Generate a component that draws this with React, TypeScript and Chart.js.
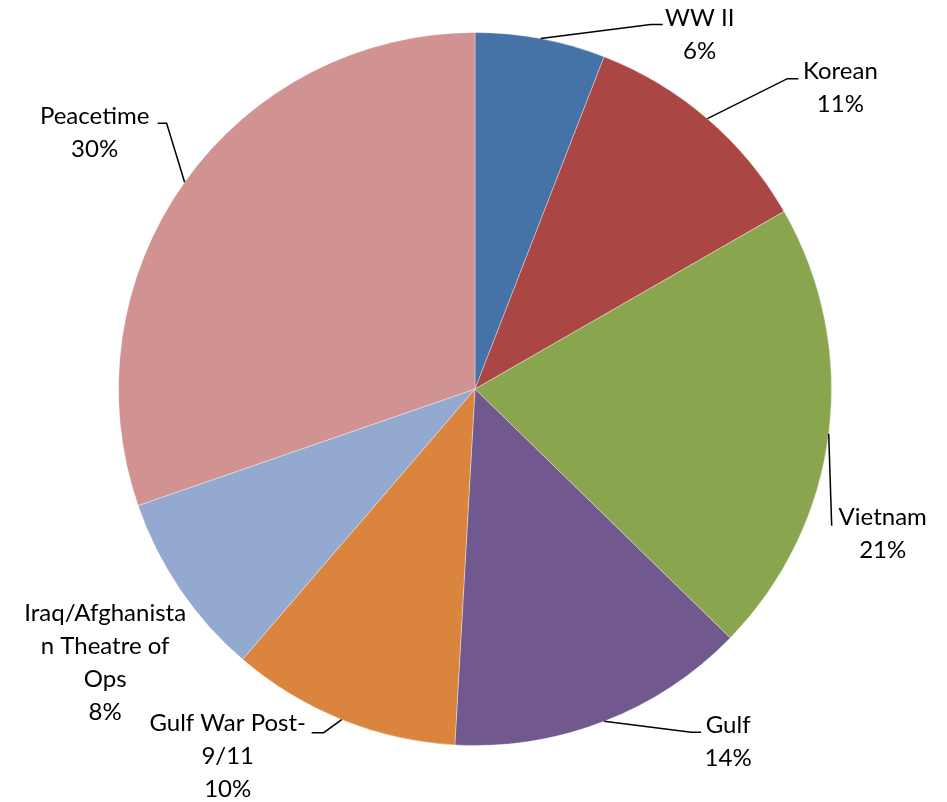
import { useEffect, useRef } from "react";
import { Chart, registerables, type ChartConfiguration, type Plugin } from "chart.js";

Chart.register(...registerables);

// slice names as printed (line breaks as in the picture)
const CATEGORIES = [
  "WW II",
  "Korean",
  "Vietnam",
  "Gulf",
  "Gulf War Post-\n9/11",
  "Iraq/Afghanista\nn Theatre of\nOps",
  "Peacetime",
];

// share of total, %
const SHARES = [5.9, 10.8, 20.6, 13.6, 10.4, 8.4, 30.3];

const COLORS = ["#4572A7", "#AA4643", "#89A54E", "#71588F", "#DB843D", "#93A9CF", "#D19392"];

// label placement relative to the point where the slice's mid-angle meets the rim
// text: centre of first text line; leader: elbow points after the rim point
const LABEL_LAYOUT: { text: [number, number]; leader: [number, number][] }[] = [
  { text: [159, -20], leader: [[110, -14], [122, -14]] },
  { text: [133, -47], leader: [[80, -40], [91, -40]] },
  { text: [54, 84], leader: [[3, 92]] },
  { text: [124, 4], leader: [[87, 11], [97, 11]] },
  { text: [-114, 4], leader: [[-18, 13], [-30, 13]] },
  { text: [-75, 24], leader: [] },
  { text: [-90, -66], leader: [[-18, -59], [-27, -59]] },
];

const FONT = '24px Lato, "Open Sans", sans-serif';
const LINE_GAP = 33;

const labelPlugin: Plugin<"pie"> = {
  id: "leaderLabels",
  afterDraw(chart) {
    const ctx = chart.ctx;
    const meta = chart.getDatasetMeta(0);
    ctx.save();
    ctx.font = FONT;
    ctx.fillStyle = "#000";
    ctx.strokeStyle = "#000";
    ctx.lineWidth = 1.5;
    ctx.textAlign = "center";
    ctx.textBaseline = "middle";
    meta.data.forEach((el, i) => {
      const p = (el as any).getProps(["x", "y", "startAngle", "endAngle", "outerRadius"], true);
      const mid = (p.startAngle + p.endAngle) / 2;
      const ex = p.x + Math.cos(mid) * p.outerRadius;
      const ey = p.y + Math.sin(mid) * p.outerRadius;
      const lay = LABEL_LAYOUT[i];
      if (lay.leader.length) {
        ctx.beginPath();
        ctx.moveTo(ex, ey);
        lay.leader.forEach(([dx, dy]) => ctx.lineTo(ex + dx, ey + dy));
        ctx.stroke();
      }
      const lines = [...CATEGORIES[i].split("\n"), `${Math.round(SHARES[i])}%`];
      lines.forEach((t, k) => {
        ctx.fillText(t, ex + lay.text[0], ey + lay.text[1] + k * LINE_GAP);
      });
    });
    ctx.restore();
  },
};

export default function App() {
  const canvasRef = useRef<HTMLCanvasElement>(null);

  useEffect(() => {
    if (!canvasRef.current) return;
    const config: ChartConfiguration<"pie"> = {
      type: "pie",
      data: {
        labels: CATEGORIES,
        datasets: [
          {
            data: SHARES,
            backgroundColor: COLORS,
            borderColor: "rgba(255,255,255,0.35)",
            borderWidth: 1,
          },
        ],
      },
      options: {
        animation: false,
        responsive: true,
        maintainAspectRatio: false,
        layout: { padding: { left: 118, right: 115, top: 32, bottom: 56 } },
        plugins: {
          legend: { display: false },
          tooltip: { enabled: false },
        },
      },
      plugins: [labelPlugin],
    };
    const chart = new Chart(canvasRef.current, config);
    return () => chart.destroy();
  }, []);

  return (
    <div style={{ position: "fixed", left: 0, top: 0, width: 947, height: 802, background: "#fff" }}>
      <canvas ref={canvasRef} />
    </div>
  );
}
